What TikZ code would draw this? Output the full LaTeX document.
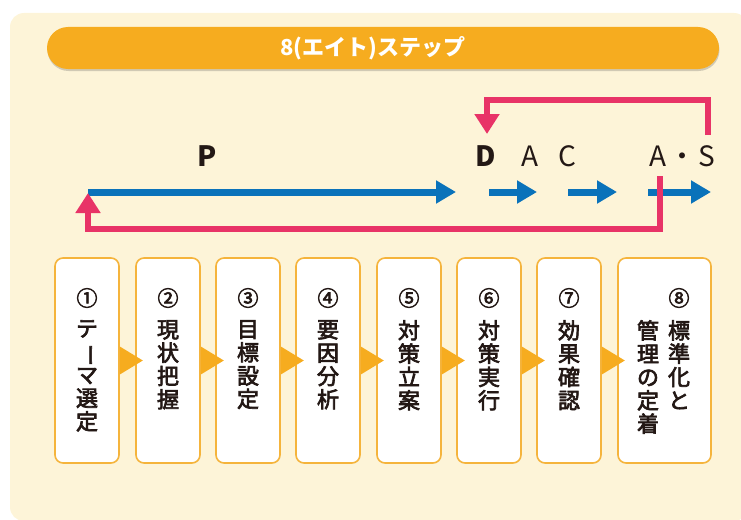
\documentclass[tikz,border=0pt]{standalone}
\usepackage{fontspec}
\usepackage{graphicx}
\setmainfont{Noto Sans CJK JP}
\newfontfamily\cjkmed[FakeBold=3]{Noto Sans CJK JP}
\usetikzlibrary{arrows.meta,shadows}
\definecolor{bgc}{HTML}{FDF4D8}
\definecolor{org}{HTML}{F6AC1F}
\definecolor{boxline}{HTML}{F5B43C}
\definecolor{redc}{HTML}{E83367}
\definecolor{bluec}{HTML}{0A72BA}
\definecolor{ink}{HTML}{231815}
\tikzset{
  stepbox/.style={draw=boxline, line width=1.6pt, fill=white, rounded corners=8pt,
    minimum height=205pt, inner sep=0pt},
  titlebar/.style={fill=org, rounded corners=21pt, minimum width=672pt, minimum height=42pt,
    inner sep=0pt,
    drop shadow={shadow xshift=0.5pt, shadow yshift=-2pt, opacity=0.25, fill=black!70}},
  titletext/.style={inner sep=0pt, text=white, font=\fontsize{22}{22}\selectfont\bfseries},
  vtext/.style={font=\fontsize{22}{23.3}\selectfont\cjkmed, text=ink, align=center,
    anchor=north, inner sep=0pt},
  num/.style={font=\fontsize{21}{21}\selectfont\cjkmed, text=ink, inner sep=0pt},
  lab/.style={font=\fontsize{28}{28}\selectfont, text=ink, inner sep=0pt},
  labb/.style={font=\fontsize{28}{28}\selectfont\bfseries, text=ink, inner sep=0pt},
  bluearr/.style={draw=bluec, line width=7pt, -{Triangle[length=20pt,width=22pt]}},
  redarr/.style={draw=redc, line width=6.5pt, line join=miter, -{Triangle[length=20pt,width=24pt]}}
}
\newcommand\vbar{\rotatebox[origin=c]{-90}{ー}}
\begin{document}
\begin{tikzpicture}[x=1pt,y=-1pt]
\useasboundingbox (0,0) rectangle (741,519);
\clip (0,0) rectangle (741,519);
% background
\fill[bgc, rounded corners=14pt] (10,13) rectangle (748,521);
% title
\node[titlebar] (title) at (383,48) {};
\node[titletext] (titletxt) at (373,48) {8(エイト)ステップ};
% labels
\node[labb] (labP) at (207.5,156) {P};
\node[labb] (labD) at (486,156) {D};
\node[lab] (labA) at (530,156) {A};
\node[lab] (labC) at (567.5,156) {C};
\node[lab] (labA2) at (658,156) {A};
\node[lab] (labdot) at (682.5,160) {・};
\node[lab] (labS) at (706.5,156) {S};
% blue arrow coordinates
\coordinate (p1) at (88,192);  \coordinate (p2) at (456,192);
\coordinate (d1) at (489,192); \coordinate (d2) at (537,192);
\coordinate (c1) at (568,192); \coordinate (c2) at (617,192);
\coordinate (s1) at (648,192); \coordinate (s2) at (711,192);
\draw[bluearr] (p1) -- (p2);
\draw[bluearr] (d1) -- (d2);
\draw[bluearr] (c1) -- (c2);
\draw[bluearr] (s1) -- (s2);
% red loops
\coordinate (rt1) at (708,135); \coordinate (rt2) at (487,134);
\draw[redarr] (rt1) -- (708,100) -| (rt2);
\coordinate (rb1) at (660,176); \coordinate (rb2) at (88,193);
\draw[redarr] (rb1) -- (660,229) -| (rb2);
% boxes
\foreach \i/\x in {1/55,2/136,3/216,4/296,5/377,6/457,7/537} {
  \node[stepbox, minimum width=64pt] (box\i) at (\x+32,360.5) {};
}
\node[stepbox, minimum width=93pt] (box8) at (664.5,360.5) {};
% triangles
\foreach \i in {1,...,7} {
  \fill[org] (box\i.east) ++(0,-14) -- ++(23,14) -- ++(-23,14) -- cycle;
}
% numbers
\node[num] (n1) at (87,298) {①};
\node[num] (n2) at (168,298) {②};
\node[num] (n3) at (248,298) {③};
\node[num] (n4) at (328,298) {④};
\node[num] (n5) at (409,298) {⑤};
\node[num] (n6) at (489,298) {⑥};
\node[num] (n7) at (569,298) {⑦};
\node[num] (n8) at (679,298) {⑧};
% vertical texts
\node[vtext] (t1) at (87,320) {テ\\\vbar\\マ\\選\\定};
\node[vtext] (t2) at (168,320) {現\\状\\把\\握};
\node[vtext] (t3) at (248,320) {目\\標\\設\\定};
\node[vtext] (t4) at (328,320) {要\\因\\分\\析};
\node[vtext] (t5) at (409,320) {対\\策\\立\\案};
\node[vtext] (t6) at (489,320) {対\\策\\実\\行};
\node[vtext] (t7) at (569,320) {効\\果\\確\\認};
\node[vtext] (t8a) at (679,320) {標\\準\\化\\と};
\node[vtext] (t8b) at (648,320) {管\\理\\の\\定\\着};
\end{tikzpicture}
\end{document}
